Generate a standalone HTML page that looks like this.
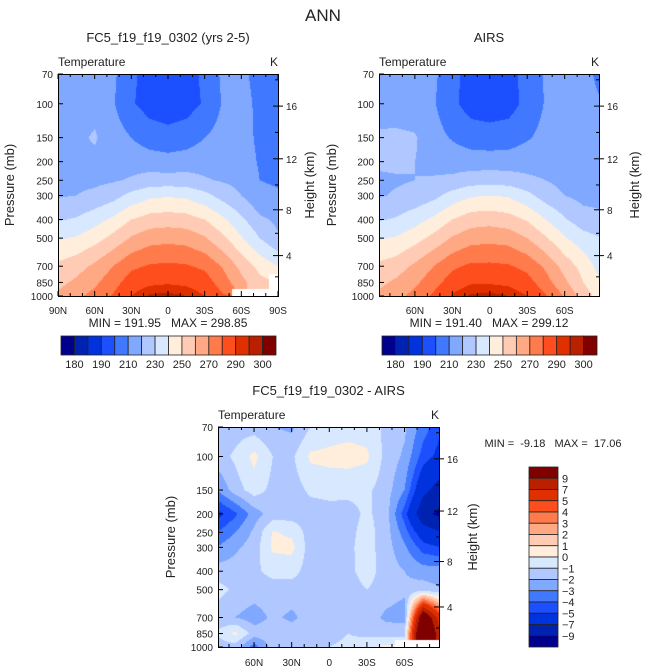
<!DOCTYPE html>
<html><head><meta charset="utf-8">
<style>
html,body{margin:0;padding:0;background:#fff;}
#wrap{position:relative;width:647px;height:671px;overflow:hidden;font-family:"Liberation Sans",sans-serif;}
canvas{position:absolute;}
svg{position:absolute;left:0;top:0;}
</style></head>
<body>
<div id="wrap">
<canvas id="c1" width="220" height="222" style="left:58px;top:74px"></canvas>
<canvas id="c2" width="220" height="222" style="left:379px;top:74px"></canvas>
<canvas id="c3" width="221" height="220" style="left:218px;top:427px"></canvas>
<svg id="ov" width="647" height="671"></svg>
</div>
<script>
const LATS = [90,75,60,45,30,15,0,-15,-30,-45,-60,-75,-90];
const LEVS = [70,100,150,200,250,300,400,500,700,850,1000];
const MODEL = [
[212,213,213,212,202,196,194,196,202,212,212,207,206],
[213,215,217,211,201,196,195,196,201,211,213,208,206],
[214,218,221,215,210,205,203,205,210,214,214,208,207],
[216,217,218,217,216,215,214,215,216,216,215,209,208],
[217,218,218,219,221,224,224,224,221,219,217,210,209],
[219,220,222,226,233,238,239,238,233,226,220,212,211],
[229,231,236,242,250,254,255,254,250,242,232,222,218],
[239,241,246,253,261,266,267,266,261,252,241,230,221],
[252,256,262,270,278,281,282,281,278,269,257,247,240],
[257,262,268,276,285,288,289,288,285,275,263,253,null],
[262,268,273,281,290,296,297,295,290,281,null,null,null]];
const AIRS = [
[212,213,213,212,203,196,195,196,204,211,213,212,208],
[214,215,214,211,202,196,195,196,203,211,213,213,210],
[222,222,221,214,209,205,204,205,209,213,214,213,213],
[222,222,220,217,216,215,215,215,216,216,215,214,214],
[218,219,220,221,222,225,226,225,222,220,217,215,215],
[219,221,223,227,234,239,240,239,233,225,220,217,217],
[229,231,236,242,250,255,256,254,249,240,231,224,222],
[239,241,246,253,261,266,267,266,260,251,241,234,230],
[252,255,262,270,278,282,282,281,277,268,256,246,235],
[257,262,268,276,285,289,289,288,284,274,262,250,240],
[262,267,273,282,291,296,297,295,290,281,269,255,245]];
const DIFF = [
[-2,-1.5,-1.5,-2,-2.2,-1,-0.6,-0.4,-0.5,-1.2,-1.8,-3.5,-5],
[-1.5,-0.8,0.3,-1,-1.2,0.2,0.3,0.4,0.2,-1.3,-2.2,-4.5,-5.5],
[-3,-1.5,-0.5,-1.3,-1.5,-0.8,-0.6,-0.7,-0.8,-1.5,-3,-6.5,-8],
[-5.5,-4.2,-2.5,-1.5,-1.5,-1.5,-1.5,-1.4,-0.8,-1.5,-4.5,-8.5,-9.5],
[-4,-3,-1.8,0.1,-0.2,-1.5,-1.5,-1.3,-0.6,-1.5,-3.5,-6,-7],
[-3,-2.2,-1.5,0.2,0.3,-1.5,-1.6,-1.2,-0.6,-1.5,-2.8,-4.5,-5],
[-1.5,-1.5,-1.2,-0.7,-0.6,-1.5,-1.6,-1.3,-0.5,-1.5,-2,-2.5,-2.5],
[-0.6,-1.2,-1.5,-1.4,-1.5,-1.6,-1.6,-1.5,-1,-1.5,-1.8,-1.5,-2],
[-1.5,-2,-2.5,-1.8,-2.2,-1.6,-1.5,-1.5,-1.5,-2.2,-2.5,12,5],
[-1,0.3,-1.5,-1.5,-1.5,-1.5,-1.3,-1,-1.2,-1.5,-1,15,6],
[-1.5,-1.5,-3.5,-1.5,-1.5,-1.2,-1,-0.8,-0.5,0.3,null,null,null]];
const T_BOUNDS = [180,185,190,200,210,220,230,240,250,260,270,280,290,295,300];
const T_LABELS = ["180","190","210","230","250","270","290","300"];
const D_BOUNDS = [-9,-7,-5,-4,-3,-2,-1,0,1,2,3,4,5,7,9];
const D_LABELS = ["-9","-7","-5","-4","-3","-2","-1","0","1","2","3","4","5","7","9"];
const COLORS = ["#00008c","#0022b0","#0032de","#1c50ff","#4078ff","#80a8ff","#b0c8ff","#d8e8ff","#ffeedc","#ffcbb4","#ffa884","#ff7b4c","#ff4e1e","#e03000","#b82000","#800000"];

const P0=70,P1=1000,LR=Math.log(P1/P0);
function colorFor(v,b){let i=0;while(i<b.length&&v>=b[i])i++;return COLORS[i];}
function hexRGB(h){return [parseInt(h.substr(1,2),16),parseInt(h.substr(3,2),16),parseInt(h.substr(5,2),16)];}
function drawField(id,grid,bounds,latL,latR){
  const cv=document.getElementById(id),ctx=cv.getContext('2d');
  const w=cv.width,h=cv.height,img=ctx.createImageData(w,h);
  const lnL=LEVS.map(p=>Math.log(p));
  for(let py=0;py<h;py++){
    const lp=Math.log(P0)+LR*(py+0.5)/h;
    let j=0;while(j<LEVS.length-2&&lp>lnL[j+1])j++;
    let fy=(lp-lnL[j])/(lnL[j+1]-lnL[j]);fy=Math.max(0,Math.min(1,fy));
    for(let px=0;px<w;px++){
      const lat=latL+(latR-latL)*(px+0.5)/w;
      let fi=(90-lat)/15;let i=Math.min(LATS.length-2,Math.max(0,Math.floor(fi)));let fx=fi-i;
      const a=grid[j][i],b=grid[j][i+1],c=grid[j+1][i],d=grid[j+1][i+1];
      const ni=fx<0.5?i:i+1,nj=fy<0.5?j:j+1;
      let col;
      if(grid[nj][ni]===null){col=[255,255,255];}
      else{
        const vals=[[a,(1-fx)*(1-fy)],[b,fx*(1-fy)],[c,(1-fx)*fy],[d,fx*fy]];
        let s=0,ws=0;for(const [v,wt] of vals){if(v!==null){s+=v*wt;ws+=wt;}}
        col=hexRGB(colorFor(s/ws,bounds));
      }
      const k=(py*w+px)*4;img.data[k]=col[0];img.data[k+1]=col[1];img.data[k+2]=col[2];img.data[k+3]=255;
    }
  }
  ctx.putImageData(img,0,0);
}
drawField('c1',MODEL,T_BOUNDS,90,-90);
drawField('c2',AIRS,T_BOUNDS,88.75,-87.5);
drawField('c3',DIFF,D_BOUNDS,88.75,-87.5);

const NS='http://www.w3.org/2000/svg',ov=document.getElementById('ov');
function el(tag,attrs,txt){const e=document.createElementNS(NS,tag);for(const k in attrs)e.setAttribute(k,attrs[k]);if(txt!==undefined)e.textContent=txt;ov.appendChild(e);return e;}
function txt(x,y,s,size,anchor,name,rot){
  const e=el('text',{x:x,y:y,'font-size':size,'text-anchor':anchor||'middle',fill:'#222','font-family':'"Liberation Sans",sans-serif'},s);
  e.style.whiteSpace='pre';
  if(rot)e.setAttribute('transform','rotate(-90 '+x+' '+y+')');
  
  
  return e;
}
function line(x1,y1,x2,y2,name){const e=el('line',{x1:x1,y1:y1,x2:x2,y2:y2,stroke:'#000','stroke-width':1});
  
  }
function zToP(z){return z<=11?1013.25*Math.pow(1-z/44.33,5.255):226.3*Math.exp(-(z-11)/6.34);}

function panel(o){
  const {x0,y0,w,h,latL,latR,title,xl,pfx}=o;
  const X=lat=>x0+(latL-lat)/(latL-latR)*w;
  const Y=p=>y0+Math.log(p/P0)/LR*h;
  const r=el('rect',{x:x0+0.5,y:y0+0.5,width:w,height:h,fill:'none',stroke:'#000','stroke-width':1});
  
  
  txt(x0+w/2,y0-32,title,13,'middle',pfx+'-title');
  txt(x0,y0-8,'Temperature',12,'start',pfx+'-variable-label');
  txt(x0+w,y0-8,'K',12,'end',pfx+'-units-label');
  LEVS.forEach(p=>{const y=Y(p);line(x0,y,x0+5,y,pfx+'-y-tick');txt(x0-5,y+4,String(p),10,'end',pfx+'-y-tick-label');});
  txt(o.pLabX,y0+h/2,'Pressure (mb)',13,'middle',pfx+'-y-axis-title',true);
  for(let z=2;z<=18;z+=2){const p=zToP(z);if(p<P0||p>P1)continue;const y=Y(p);
    const maj=z%4===0;line(x0+w-(maj?5:3),y,x0+w,y,pfx+'-height-tick');
    if(maj){line(x0+w,y,x0+w+5,y,pfx+'-height-tick-out');txt(x0+w+8,y+4,String(z),10,'start',pfx+'-height-tick-label');}}
  txt(x0+w+o.hOff,y0+h/2,'Height (km)',13,'middle',pfx+'-height-axis-title',true);
  for(let lat=90;lat>=-90;lat-=10){if(lat>latL||lat<latR)continue;const x=X(lat);const maj=lat%30===0;
    line(x,y0+h,x,y0+h-(maj?5:3),pfx+'-x-tick');line(x,y0,x,y0+(maj?5:3),pfx+'-x-tick-top');}
  xl.forEach(l=>{const lat=l==='0'?0:(l.endsWith('N')?+l.slice(0,-1):-l.slice(0,-1));txt(X(lat),y0+h+o.xlOff,l,10,'middle',pfx+'-x-tick-label');});
}
panel({x0:58,y0:74,w:220,h:222,latL:90,latR:-90,title:'FC5_f19_f19_0302 (yrs 2-5)',xl:['90N','60N','30N','0','30S','60S','90S'],pfx:'model',pLabX:14,hOff:36,xlOff:18});
panel({x0:379,y0:74,w:220,h:222,latL:88.75,latR:-87.5,title:'AIRS',xl:['60N','30N','0','30S','60S'],pfx:'airs',pLabX:336,hOff:40,xlOff:18});
panel({x0:218,y0:427,w:221,h:220,latL:88.75,latR:-87.5,title:'FC5_f19_f19_0302 - AIRS',xl:['60N','30N','0','30S','60S'],pfx:'diff',pLabX:175,hOff:38,xlOff:19});

txt(323,21,'ANN',17,'middle','figure-title');
txt(168,327,'MIN = 191.95   MAX = 298.85',12,'middle','model-min-max');
txt(489,327,'MIN = 191.40   MAX = 299.12',12,'middle','airs-min-max');
txt(553,447,'MIN =  -9.18   MAX =  17.06',11,'middle','diff-min-max');

function hbar(x0,pfx){
  const w=215,y0=336,h=19,n=COLORS.length,bw=w/n;
  COLORS.forEach((c,i)=>{const r=el('rect',{x:x0+i*bw,y:y0,width:bw,height:h,fill:c,stroke:'#222','stroke-width':0.8});
    
    });
  T_LABELS.forEach((l,k)=>{txt(x0+(1+2*k)*bw,y0+h+13,l,11,'middle',pfx+'-colorbar-label');});
}
hbar(61,'model');hbar(382,'airs');
(function(){
  const x0=529,y0=467,w=29,h=180,n=COLORS.length,bh=h/n;
  COLORS.slice().reverse().forEach((c,i)=>{const r=el('rect',{x:x0,y:y0+i*bh,width:w,height:bh,fill:c,stroke:'#222','stroke-width':0.8});
    
    });
  D_LABELS.slice().reverse().forEach((l,k)=>{txt(x0+w+4,y0+(k+1)*bh+4,l.replace('-','\u2212'),11,'start','diff-colorbar-label');});
})();
</script>
</body></html>
